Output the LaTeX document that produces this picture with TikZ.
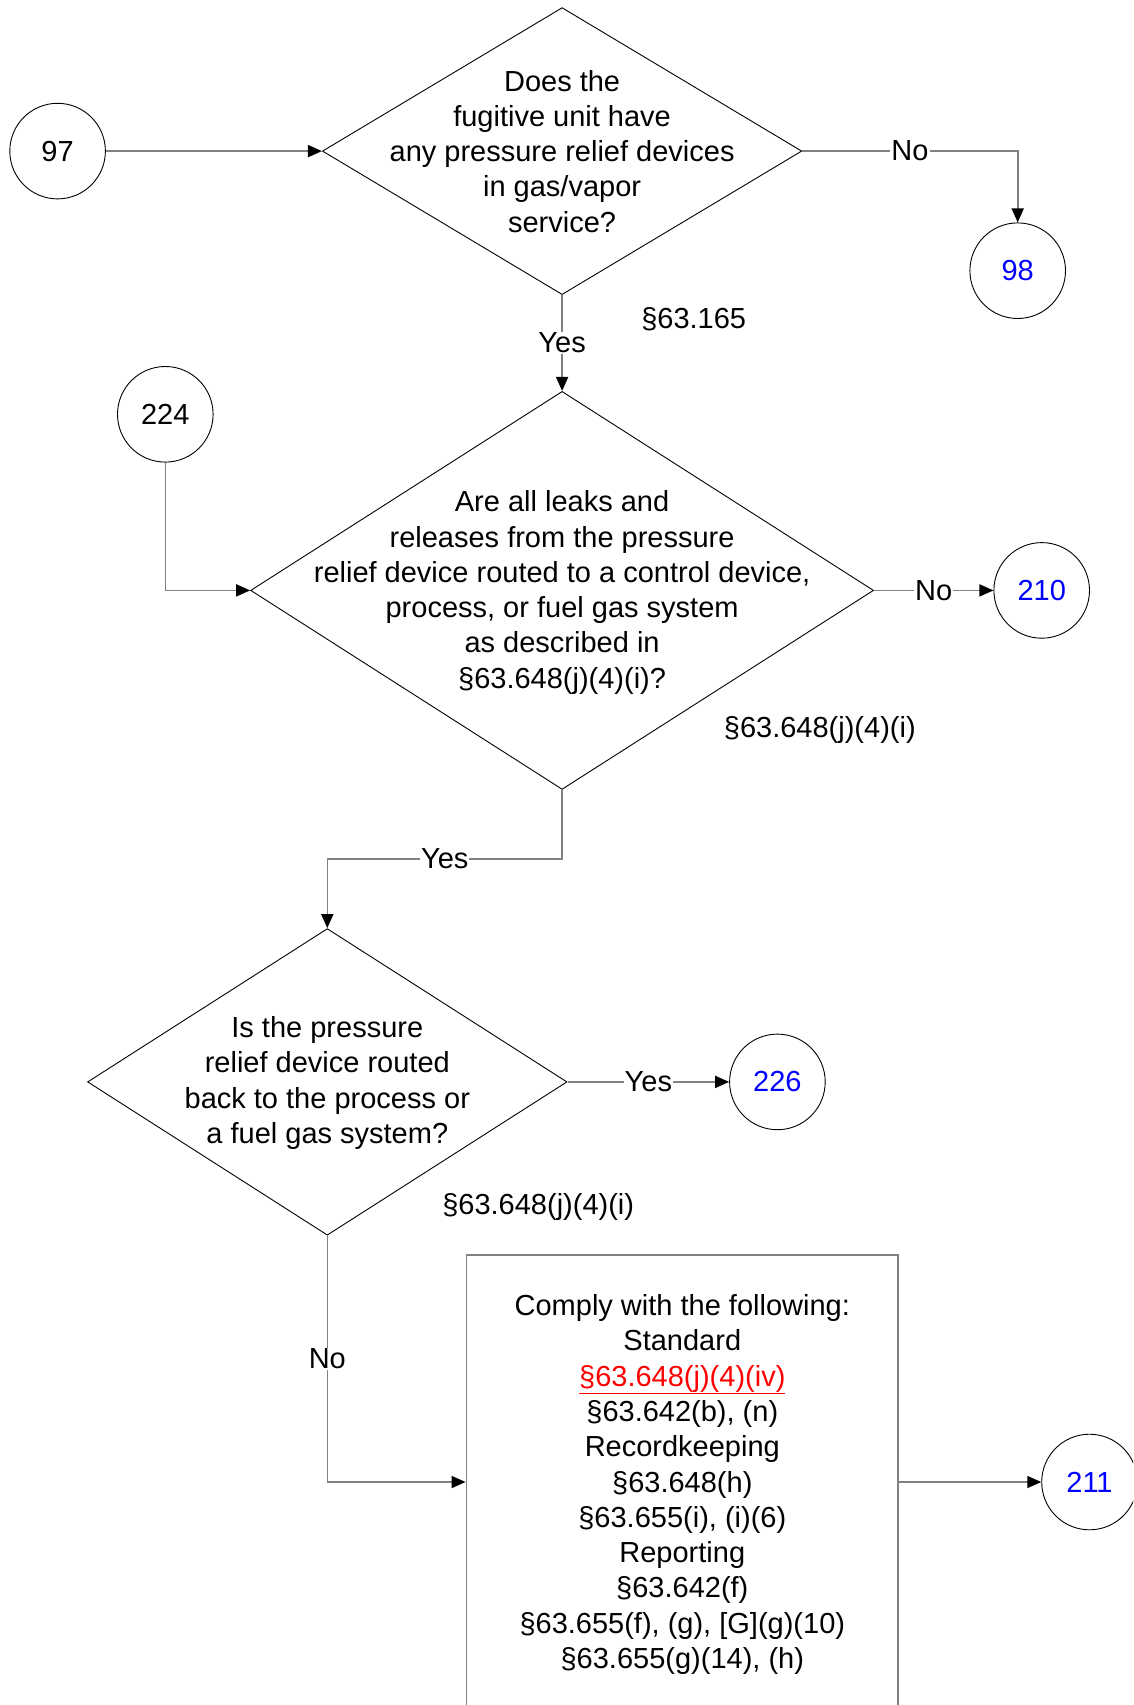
\documentclass[tikz,border=0pt]{standalone}
\usepackage{fontspec}
\setmainfont{Liberation Sans}
\usetikzlibrary{shapes.geometric,arrows.meta,calc}
\definecolor{lnkblue}{RGB}{0,0,255}
\definecolor{lnkred}{RGB}{255,0,0}
\definecolor{lineg}{RGB}{128,128,128}
\begin{document}
\begin{tikzpicture}[x=1pt,y=-1pt,
  font=\fontsize{29}{35.3}\selectfont,
  conn/.style={draw=lineg,line width=1.6pt,-{Triangle[length=14pt,width=12pt,color=black]}},
  plain/.style={draw=lineg,line width=1.6pt},
  dec/.style={diamond,draw=black,line width=0.9pt,inner sep=0pt},
  conc/.style={circle,draw=black,line width=0.9pt,minimum size=95.6pt,inner sep=0pt},
  qtext/.style={align=center,inner sep=0pt},
  lbl/.style={fill=white,inner sep=1pt},
  ref/.style={inner sep=0pt},
  boxsty/.style={rectangle,draw=lineg,line width=1.8pt,inner sep=0pt,align=center}
]
\clip (0,0) rectangle (1133,1705);
\fill[white] (0,0) rectangle (1133,1705);

% nodes
\node[conc] (c97) at (57.6,151.1) {97};
\node[dec,minimum width=479.4pt,minimum height=287pt] (d1) at (562.1,151.1) {};
\node[qtext] (d1t) at (562.1,151.3) {Does the\\fugitive unit have\\any pressure relief devices\\in gas/vapor\\service?};
\node[conc,text=lnkblue] (c98) at (1017.7,270.7) {98};
\node[ref] (r1) at (693.7,319.6) {§63.165};

\node[conc] (c224) at (165.3,414.3) {224};
\node[dec,minimum width=623pt,minimum height=398pt] (d2) at (562.1,590.4) {};
\node[qtext] (d2t) at (562.1,592.5) {Are all leaks and\\releases from the pressure\\relief device routed to a control device,\\process, or fuel gas system\\as described in\\§63.648(j)(4)(i)?};
\node[conc,text=lnkblue] (c210) at (1041.7,590.4) {210};
\node[ref] (r2) at (819.8,730) {§63.648(j)(4)(i)};

\coordinate (yb) at (0,859);
\node[dec,minimum width=479.5pt,minimum height=306.6pt] (d3) at (327.3,1081.9) {};
\node[qtext] (d3t) at (327.3,1083) {Is the pressure\\relief device routed\\back to the process or\\a fuel gas system?};
\node[conc,text=lnkblue] (c226) at (777.4,1081.9) {226};
\node[ref] (r3) at (538.2,1206.5) {§63.648(j)(4)(i)};

\node[boxsty,minimum width=431.6pt,minimum height=454.4pt] (box) at (682.3,1482) {};
\node[qtext] (boxt) at (682.3,1484.5) {Comply with the following:\\Standard\\{\color{lnkred}\underline{§63.648(j)(4)(iv)}}\\§63.642(b), (n)\\Recordkeeping\\§63.648(h)\\§63.655(i), (i)(6)\\Reporting\\§63.642(f)\\§63.655(f), (g), [G](g)(10)\\§63.655(g)(14), (h)};
\node[conc,text=lnkblue] (c211) at (1089.5,1482) {211};

% connectors
\draw[conn] (c97.east) -- (d1.west);
\draw[conn] (d1.east) -| node[lbl,pos=0.25] {No} (c98.north);
\draw[conn] (d1.south) -- node[lbl] {Yes} (d2.north);
\draw[conn] (c224.south) |- (d2.west);
\draw[conn] (d2.east) -- node[lbl] {No} (c210.west);
\draw[plain] (d2.south) |- node[lbl,pos=0.75] {Yes} (d3.north |- yb);
\draw[conn] (d3.north |- yb) -- (d3.north);
\draw[conn] (d3.east) -- node[lbl] {Yes} (c226.west);
\draw[conn] (d3.south) |- node[lbl,pos=0.25] {No} (box.west);
\draw[conn] (box.east) -- (c211.west);
\end{tikzpicture}
\end{document}
